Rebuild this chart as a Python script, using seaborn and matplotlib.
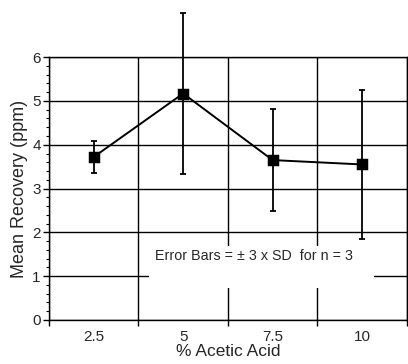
# mean recovery vs % acetic acid, error bars = +/- 3 SD
import matplotlib.pyplot as plt
import seaborn as sns
import pandas as pd
import numpy as np
from matplotlib.ticker import FixedLocator, MultipleLocator, NullFormatter
from matplotlib.patches import Rectangle

acid = ["2.5", "5", "7.5", "10"]
recovery = [3.72, 5.17, 3.65, 3.55]
err_3sd = [0.36, 1.84, 1.16, 1.71]

df = pd.DataFrame({"acid": acid, "recovery": recovery, "err": err_3sd})

sns.set_theme(style="ticks")
plt.rcParams["font.family"] = ["Liberation Sans", "DejaVu Sans"]

fig = plt.figure(figsize=(4.08, 3.64), dpi=100)
ax = fig.add_axes([0.12, 0.121, 0.877, 0.722])

sns.pointplot(
    data=df, x="acid", y="recovery", order=acid,
    color="black", markers="s", markersize=7, linewidth=1.4,
    errorbar=None, ax=ax, zorder=4
)

pos = np.arange(len(acid))
eb = ax.errorbar(pos, df["recovery"], yerr=df["err"], fmt="none",
                 ecolor="black", elinewidth=1.3, capsize=2.5, capthick=1.3,
                 zorder=3)
for art in list(eb.lines[1]) + list(eb.lines[2]):
    art.set_clip_on(False)

ax.set_xlim(-0.5, len(acid) - 0.5)
ax.set_ylim(0, 6)

# category boundaries get the ticks and grid, labels sit in between
ax.xaxis.set_major_locator(FixedLocator(np.arange(len(acid) + 1) - 0.5))
ax.xaxis.set_major_formatter(NullFormatter())
ax.xaxis.set_minor_locator(FixedLocator(pos))
ax.set_xticklabels(acid, minor=True)
ax.tick_params(axis="x", which="major", length=4, width=1, color="black")
ax.tick_params(axis="x", which="minor", length=0, pad=7, labelsize=11)

ax.yaxis.set_major_locator(MultipleLocator(1))
ax.yaxis.set_minor_locator(MultipleLocator(0.2))
ax.tick_params(axis="y", which="major", length=4, width=1, color="black",
               labelsize=11, pad=2)
ax.tick_params(axis="y", which="minor", length=2, width=0.8, color="black")

ax.set_axisbelow(True)
ax.grid(which="major", color="black", linewidth=1)
for s in ax.spines.values():
    s.set_color("black")
    s.set_linewidth(1)

ax.add_patch(Rectangle((0.62, 0.73), 2.51, 0.95, facecolor="white",
                       edgecolor="none", zorder=1))
ax.text(1.79, 1.46, "Error Bars = \u00b1 3 x SD  for n = 3", ha="center",
        va="center", fontsize=10.3, zorder=5)

ax.set_xlabel("% Acetic Acid", fontsize=12.5, labelpad=0)
ax.set_ylabel("Mean Recovery (ppm)", fontsize=13, labelpad=3)

fig.savefig("out.png", dpi=100)
